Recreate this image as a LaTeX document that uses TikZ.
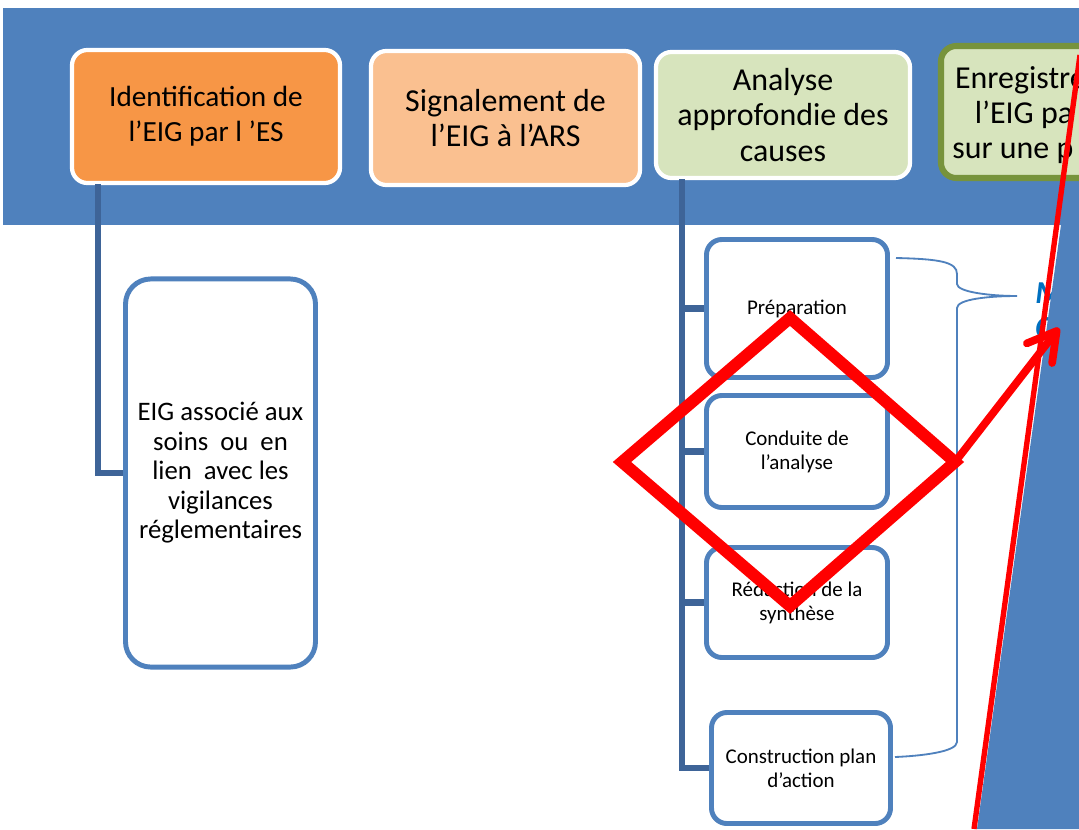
\documentclass[tikz,border=0pt]{standalone}
\usepackage{fontspec}
\setmainfont{Carlito}
\usetikzlibrary{arrows.meta}

\definecolor{bandblue}{RGB}{79,129,189}
\definecolor{linkblue}{RGB}{62,100,152}
\definecolor{idorange}{RGB}{247,150,70}
\definecolor{sigpeach}{RGB}{250,192,144}
\definecolor{anagreen}{RGB}{215,228,189}
\definecolor{regolive}{RGB}{119,147,60}
\definecolor{notesblue}{RGB}{0,112,192}

\tikzset{
	topbox/.style={draw=white, line width=3pt, rounded corners=11pt, align=center, inner sep=0pt,
		font=\fontsize{22.7}{25}\selectfont},
	stepbox/.style={draw=bandblue, fill=white, line width=3.5pt, rounded corners=11pt, align=center,
		inner sep=0pt, minimum width=4.525cm, font=\fontsize{14.9}{17}\selectfont},
	link/.style={draw=linkblue, line width=4.3pt},
	brace/.style={draw=bandblue, line width=1.3pt},
	mark red/.style={draw=red, line width=8.5pt, miter limit=4},
}

\begin{document}
\begin{tikzpicture}[x=0.025cm, y=-0.025cm]
			%%%%% START %%%%%
			\useasboundingbox (0, 0) rectangle (1079, 829);
			\clip (0, 0) rectangle (1079, 829);
			\fill[white] (0, 0) rectangle (1079, 829);
			
			\fill[bandblue] (3, 8) rectangle (1079, 225);
			
			\node[topbox, fill=idorange, minimum width=6.7cm, minimum height=3.325cm,
				font=\fontsize{20.8}{25}\selectfont] (ident) at (206, 116.5)
				{Identification de\\l’EIG par l ’ES};
			\node[topbox, fill=sigpeach, minimum width=6.725cm, minimum height=3.35cm] (signal) at (505.5, 118)
				{Signalement de\\l’EIG à l’ARS};
			\node[topbox, fill=anagreen, minimum width=6.35cm, minimum height=3.15cm] (analyse) at (783, 115)
				{Analyse\\approfondie des\\causes};
			\node[topbox, draw=regolive, line width=4.3pt, fill=anagreen, minimum width=6.35cm, minimum height=3.3cm] (enreg) at (1068, 112) {};
			\node[anchor=west, align=left, inner sep=0pt, font=\fontsize{22.7}{25}\selectfont] (enregtxt) at (952, 115)
				{\hspace*{2pt}Enregistre\\\hspace*{16pt}l’EIG pa\\sur une p};
			
			\node[stepbox, line width=3.5pt, rounded corners=18pt, minimum width=4.75cm, minimum height=9.7cm,
				font=\fontsize{19}{21}\selectfont] (eig) at (220.5, 473)
				{EIG associé aux\\soins~ ou~ en\\lien~ avec les\\vigilances\\réglementaires};
			
			\node[stepbox, minimum height=3.45cm] (prep) at (797, 308.5) {Préparation};
			\node[stepbox, minimum height=2.8cm] (conduite) at (797, 451.5) {Conduite de\\l’analyse};
			\node[stepbox, minimum height=2.75cm] (redac) at (797, 602.5) {Rédaction de la\\synthèse};
			\node[stepbox, minimum width=4.475cm, minimum height=2.775cm] (constr) at (801, 768) {Construction plan\\d’action};
			
			\coordinate (stem) at (98, 184);
			\draw[link] (stem) |- (eig.west);
			
			\coordinate (spine) at (682, 179);
			\draw[link] (spine) |- (constr.west);
			\draw[link] (spine |- prep.west) -- (prep.west);
			\draw[link] (spine |- conduite.west) -- (conduite.west);
			\draw[link] (spine |- redac.west) -- (redac.west);
			
			\draw[brace] (896, 258) .. controls (940, 259) and (957, 262) .. (957, 274) -- (957, 284)
				.. controls (957, 292) and (990, 296) .. (1017, 296)
				.. controls (990, 296) and (957, 299) .. (957, 308) -- (957, 742)
				.. controls (957, 752) and (920, 756) .. (895, 757);
			
			\node[anchor=west, align=left, inner sep=0pt, text=notesblue, font=\fontsize{22.7}{25}\selectfont\bfseries\itshape]
				(notes) at (1035, 311) {M\\C};
			
			\fill[bandblue] (1061, 225) -- (977, 829) -- (1079, 829) -- (1079, 225) -- cycle;
			
			\coordinate (dtop) at (790, 318);
			\coordinate (dleft) at (622, 462);
			\coordinate (dbot) at (790, 606);
			\coordinate (dright) at (955, 462);
			\draw[mark red] (dtop) -- (dleft) -- (dbot) -- (dright) -- cycle;
			
			\coordinate (tip) at (1059, 328);
			\draw[draw=red, line width=5.5pt, line cap=round, -{Straight Barb[round, length=0.7cm, width=0.8cm]}] (dright) -- (tip);
			
			\coordinate (slash) at (1080, 55);
			\coordinate (slashend) at (974, 829);
			\draw[draw=red, line width=3.8pt] (slash) -- (slashend);
			
			%%%%% END %%%%%
\end{tikzpicture}
\end{document}
